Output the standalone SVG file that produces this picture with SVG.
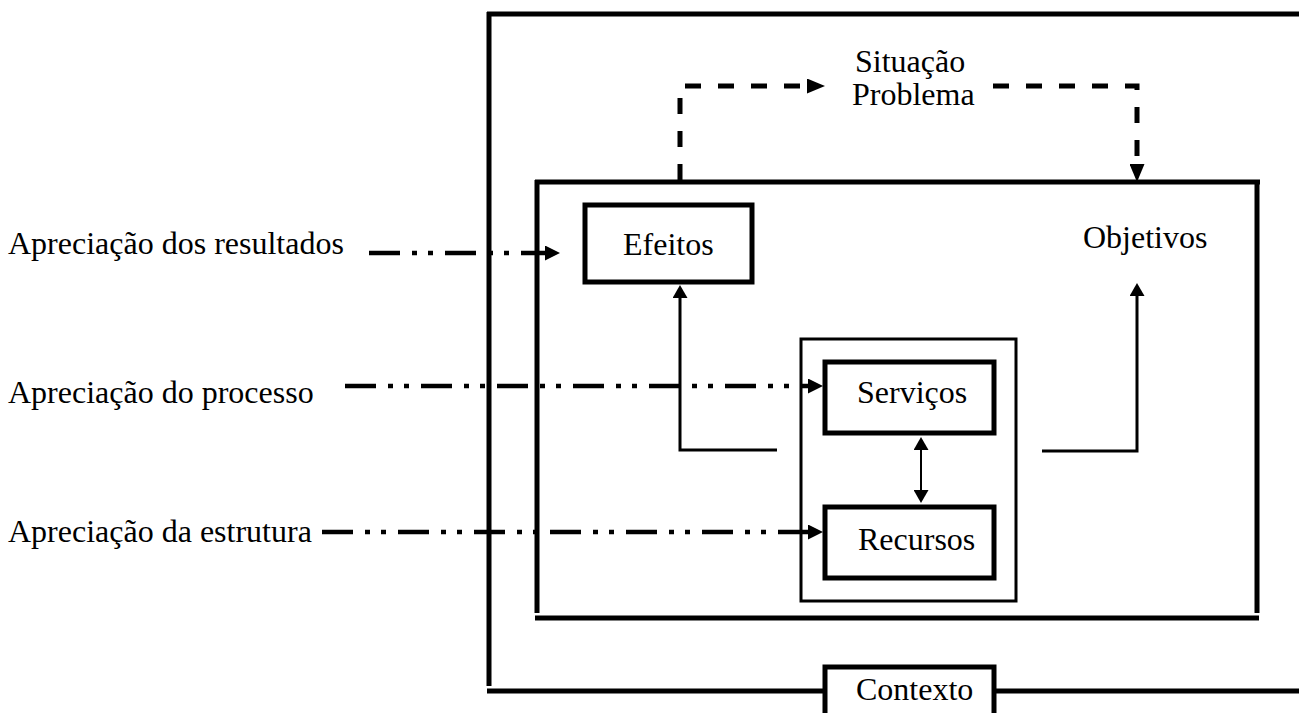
<svg xmlns="http://www.w3.org/2000/svg" width="1299" height="713" viewBox="0 0 1299 713">
<style>
text{font-family:"Liberation Serif","Times New Roman",serif;font-size:32px;fill:#000}
.frame{fill:none;stroke:#000;stroke-width:5}
.box{fill:#fff;stroke:#000;stroke-width:5}
.thin{fill:none;stroke:#000;stroke-width:3}
.solid{fill:none;stroke:#000;stroke-width:3}
.dash{fill:none;stroke:#000;stroke-width:5;stroke-dasharray:16 17}
.dashdot{fill:none;stroke:#000;stroke-width:4.5;stroke-dasharray:31 12 5 11 5 12}
</style>
<defs>
<marker id="aD" viewBox="0 0 15 15" markerWidth="15" markerHeight="15" markerUnits="userSpaceOnUse" refX="0" refY="7.5" orient="auto"><path d="M0,0 L15,7.5 L0,15 z" fill="#000" stroke="none"/></marker>
<marker id="aS" viewBox="0 0 13 15" markerWidth="13" markerHeight="15" markerUnits="userSpaceOnUse" refX="0" refY="7.5" orient="auto"><path d="M0,0 L13,7.5 L0,15 z" fill="#000" stroke="none"/></marker>
<marker id="aSS" viewBox="0 0 13 15" markerWidth="13" markerHeight="15" markerUnits="userSpaceOnUse" refX="0" refY="7.5" orient="auto-start-reverse"><path d="M0,0 L13,7.5 L0,15 z" fill="#000" stroke="none"/></marker>
<marker id="aK" viewBox="0 0 18 15" markerWidth="18" markerHeight="15" markerUnits="userSpaceOnUse" refX="0" refY="7.5" orient="auto"><path d="M0,0 L18,7.5 L0,15 z" fill="#000" stroke="none"/></marker>
</defs>
<rect width="1299" height="713" fill="#fff"/>

<g id="contexto-frame">
<path class="frame" d="M487 14 H1299 M489 12 V686 M487 691 H825 M994 691 H1299"/>
</g>

<g id="programa-frame">
<path class="frame" d="M535 182 H1260 M537 180 V613 M1257 180 V613 M535 618 H1259"/>
</g>

<g id="componentes-frame">
<rect class="thin" x="801" y="339" width="215" height="262"/>
</g>

<g id="connectors">
<path class="dash" d="M680 180 V86 H807" marker-end="url(#aK)"/>
<path class="dash" d="M993 86 H1137 V164" marker-end="url(#aK)"/>
<path class="solid" d="M777 450 H680 V298" marker-end="url(#aS)"/>
<path class="solid" d="M1042 451 H1137 V296" marker-end="url(#aS)"/>
<line x1="921" y1="450" x2="921" y2="490" stroke="#000" stroke-width="2" marker-start="url(#aSS)" marker-end="url(#aSS)"/>
<path class="dashdot" d="M369 253 H545" marker-end="url(#aD)"/>
<path class="dashdot" d="M345 386 H808" marker-end="url(#aD)"/>
<path class="dashdot" d="M322 532 H808" marker-end="url(#aD)"/>
</g>

<g id="efeitos">
<rect class="box" x="585" y="205" width="167" height="77"/>
<text x="623" y="255">Efeitos</text>
</g>

<g id="servicos">
<rect class="box" x="825" y="362" width="169" height="71"/>
<text x="857" y="403">Serviços</text>
</g>

<g id="recursos">
<rect class="box" x="825" y="507" width="169" height="71"/>
<text x="858" y="550">Recursos</text>
</g>

<g id="contexto">
<rect class="box" x="825" y="667" width="169" height="60"/>
<text x="856" y="700">Contexto</text>
</g>

<g id="objetivos">
<text x="1083" y="248">Objetivos</text>
</g>

<g id="situacao-problema">
<text x="855" y="72">Situação</text>
<text x="852" y="105">Problema</text>
</g>

<g id="apreciacao-resultados">
<text x="8" y="254">Apreciação dos resultados</text>
</g>
<g id="apreciacao-processo">
<text x="8" y="403">Apreciação do processo</text>
</g>
<g id="apreciacao-estrutura">
<text x="8" y="542">Apreciação da estrutura</text>
</g>
</svg>
